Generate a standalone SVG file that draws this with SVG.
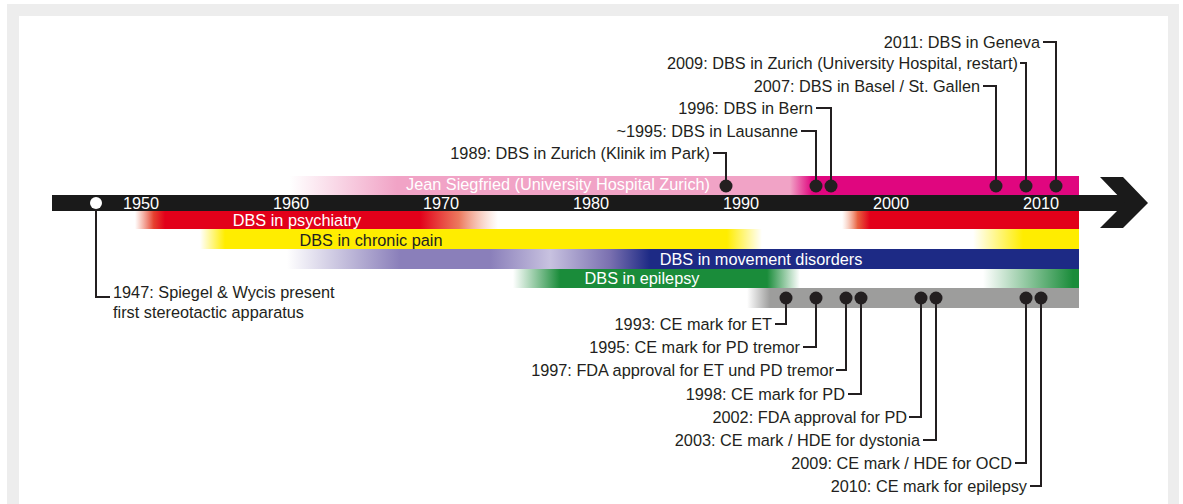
<svg xmlns="http://www.w3.org/2000/svg" width="1183" height="504" viewBox="0 0 1183 504">
<style>
text{font-family:"Liberation Sans",Arial,sans-serif;font-size:16.3px;fill:#231f20}
.lbl{text-anchor:end}
.yr{fill:#fff;text-anchor:middle}
.bt{fill:#fff;text-anchor:middle}
.dot{fill:#231f20}
.con{fill:none;stroke:#231f20;stroke-width:2}
</style>
<defs>
<linearGradient id="gPink" gradientUnits="userSpaceOnUse" x1="0" y1="0" x2="1183" y2="0">
<stop offset="0.2451" stop-color="#f1a3c6" stop-opacity="0"/>
<stop offset="0.3356" stop-color="#f1a3c6"/>
<stop offset="0.6678" stop-color="#f1a3c6"/>
<stop offset="0.6864" stop-color="#e0067f"/>
<stop offset="0.9121" stop-color="#e0067f"/>
</linearGradient>
<linearGradient id="gRed" gradientUnits="userSpaceOnUse" x1="0" y1="0" x2="1183" y2="0">
<stop offset="0.1141" stop-color="#e8603f" stop-opacity="0"/>
<stop offset="0.1300" stop-color="#e6402f"/>
<stop offset="0.1395" stop-color="#e2001a"/>
<stop offset="0.3550" stop-color="#e2001a"/>
<stop offset="0.3880" stop-color="#ea6a4c" stop-opacity="0.9"/>
<stop offset="0.4210" stop-color="#f0a080" stop-opacity="0"/>
<stop offset="0.7118" stop-color="#f0a080" stop-opacity="0"/>
<stop offset="0.7250" stop-color="#e8603f"/>
<stop offset="0.7354" stop-color="#e2001a"/>
<stop offset="0.9121" stop-color="#e2001a"/>
</linearGradient>
<linearGradient id="gYel" gradientUnits="userSpaceOnUse" x1="0" y1="0" x2="1183" y2="0">
<stop offset="0.1691" stop-color="#ffed00" stop-opacity="0"/>
<stop offset="0.1902" stop-color="#ffed00"/>
<stop offset="0.6145" stop-color="#ffed00"/>
<stop offset="0.6441" stop-color="#ffed00" stop-opacity="0"/>
<stop offset="0.8225" stop-color="#ffed00" stop-opacity="0"/>
<stop offset="0.8648" stop-color="#ffed00"/>
<stop offset="0.9121" stop-color="#ffed00"/>
</linearGradient>
<linearGradient id="gBlue" gradientUnits="userSpaceOnUse" x1="0" y1="0" x2="1183" y2="0">
<stop offset="0.2426" stop-color="#8a7fba" stop-opacity="0"/>
<stop offset="0.3381" stop-color="#8a7fba"/>
<stop offset="0.4142" stop-color="#8a7fba"/>
<stop offset="0.4649" stop-color="#c8c2e0"/>
<stop offset="0.5156" stop-color="#7a70b0"/>
<stop offset="0.5495" stop-color="#1d2a85"/>
<stop offset="0.9121" stop-color="#1d2a85"/>
</linearGradient>
<linearGradient id="gGreen" gradientUnits="userSpaceOnUse" x1="0" y1="0" x2="1183" y2="0">
<stop offset="0.4336" stop-color="#1a8c3a" stop-opacity="0"/>
<stop offset="0.4734" stop-color="#1a8c3a"/>
<stop offset="0.6484" stop-color="#1a8c3a"/>
<stop offset="0.6762" stop-color="#1a8c3a" stop-opacity="0"/>
<stop offset="0.8309" stop-color="#1a8c3a" stop-opacity="0"/>
<stop offset="0.9070" stop-color="#1a8c3a"/>
<stop offset="0.9121" stop-color="#1a8c3a"/>
</linearGradient>
<linearGradient id="gGray" gradientUnits="userSpaceOnUse" x1="0" y1="0" x2="1183" y2="0">
<stop offset="0.6315" stop-color="#9d9d9c" stop-opacity="0"/>
<stop offset="0.6509" stop-color="#9d9d9c"/>
<stop offset="0.9121" stop-color="#9d9d9c"/>
</linearGradient>
</defs>

<rect x="0" y="0" width="1183" height="504" fill="#fff"/>
<rect x="7" y="4" width="1172" height="510" fill="#ededed"/>
<rect x="19" y="16" width="1149" height="500" fill="#fff"/>

<g id="bar-siegfried">
<rect x="290" y="176" width="789" height="19" fill="url(#gPink)"/>
<text class="bt" x="558" y="190">Jean Siegfried (University Hospital Zurich)</text>
</g>
<g id="bar-psychiatry">
<rect x="135" y="211" width="944" height="18" fill="url(#gRed)"/>
<text class="bt" x="297" y="226">DBS in psychiatry</text>
</g>
<g id="bar-pain">
<rect x="200" y="229" width="879" height="20" fill="url(#gYel)"/>
<text x="371" y="246" text-anchor="middle" fill="#2a2a1a">DBS in chronic pain</text>
</g>
<g id="bar-movement">
<rect x="287" y="249" width="792" height="20" fill="url(#gBlue)"/>
<text class="bt" x="761" y="265">DBS in movement disorders</text>
</g>
<g id="bar-epilepsy">
<rect x="513" y="269" width="566" height="19" fill="url(#gGreen)"/>
<text class="bt" x="642" y="284">DBS in epilepsy</text>
</g>
<g id="bar-approvals">
<rect x="747" y="288" width="332" height="20" fill="url(#gGray)"/>
</g>

<g id="timeline">
<rect x="52" y="195" width="1078" height="16" fill="#1a1a1a"/>
<polygon points="1100,177 1123,177 1148,203 1123,228 1100,228 1125,203" fill="#1a1a1a"/>
<text class="yr" x="141" y="209">1950</text>
<text class="yr" x="291" y="209">1960</text>
<text class="yr" x="441" y="209">1970</text>
<text class="yr" x="591" y="209">1980</text>
<text class="yr" x="741" y="209">1990</text>
<text class="yr" x="891" y="209">2000</text>
<text class="yr" x="1041" y="209">2010</text>
</g>

<g id="connectors">
<path class="con" d="M96,209 V297 H110"/>
<path class="con" d="M726,186 V153 H713"/>
<path class="con" d="M816,186 V131 H801"/>
<path class="con" d="M831,186 V108 H816"/>
<path class="con" d="M996,186 V86 H983"/>
<path class="con" d="M1026,186 V63 H1020"/>
<path class="con" d="M1056,186 V42 H1043"/>
<path class="con" d="M786,298 V324 H775"/>
<path class="con" d="M816,298 V347 H803"/>
<path class="con" d="M846,298 V370 H836"/>
<path class="con" d="M861,298 V394 H848"/>
<path class="con" d="M921,298 V417 H909"/>
<path class="con" d="M936,298 V440 H923"/>
<path class="con" d="M1026,298 V463 H1015"/>
<path class="con" d="M1041,298 V486 H1030"/>
</g>

<g id="ev-1947">
<circle cx="96" cy="203" r="6" fill="#fff"/>
<text x="113" y="298">1947: Spiegel &amp; Wycis present</text>
<text x="113" y="318">first stereotactic apparatus</text>
</g>
<g id="ev-1989"><circle class="dot" cx="726" cy="186" r="6.5"/><text class="lbl" x="710" y="159">1989: DBS in Zurich (Klinik im Park)</text></g>
<g id="ev-1995"><circle class="dot" cx="816" cy="186" r="6.5"/><text class="lbl" x="798" y="137">~1995: DBS in Lausanne</text></g>
<g id="ev-1996"><circle class="dot" cx="831" cy="186" r="6.5"/><text class="lbl" x="813" y="114">1996: DBS in Bern</text></g>
<g id="ev-2007"><circle class="dot" cx="996" cy="186" r="6.5"/><text class="lbl" x="980" y="92">2007: DBS in Basel / St. Gallen</text></g>
<g id="ev-2009"><circle class="dot" cx="1026" cy="186" r="6.5"/><text class="lbl" x="1018" y="69">2009: DBS in Zurich (University Hospital, restart)</text></g>
<g id="ev-2011"><circle class="dot" cx="1056" cy="186" r="6.5"/><text class="lbl" x="1040" y="48">2011: DBS in Geneva</text></g>

<g id="ap-1993"><circle class="dot" cx="786" cy="298" r="6.5"/><text class="lbl" x="772" y="330">1993: CE mark for ET</text></g>
<g id="ap-1995"><circle class="dot" cx="816" cy="298" r="6.5"/><text class="lbl" x="800" y="353">1995: CE mark for PD tremor</text></g>
<g id="ap-1997"><circle class="dot" cx="846" cy="298" r="6.5"/><text class="lbl" x="834" y="376">1997: FDA approval for ET und PD tremor</text></g>
<g id="ap-1998"><circle class="dot" cx="861" cy="298" r="6.5"/><text class="lbl" x="845" y="400">1998: CE mark for PD</text></g>
<g id="ap-2002"><circle class="dot" cx="921" cy="298" r="6.5"/><text class="lbl" x="907" y="423">2002: FDA approval for PD</text></g>
<g id="ap-2003"><circle class="dot" cx="936" cy="298" r="6.5"/><text class="lbl" x="920" y="446">2003: CE mark / HDE for dystonia</text></g>
<g id="ap-2009"><circle class="dot" cx="1026" cy="298" r="6.5"/><text class="lbl" x="1012" y="469">2009: CE mark / HDE for OCD</text></g>
<g id="ap-2010"><circle class="dot" cx="1041" cy="298" r="6.5"/><text class="lbl" x="1027" y="492">2010: CE mark for epilepsy</text></g>
</svg>
